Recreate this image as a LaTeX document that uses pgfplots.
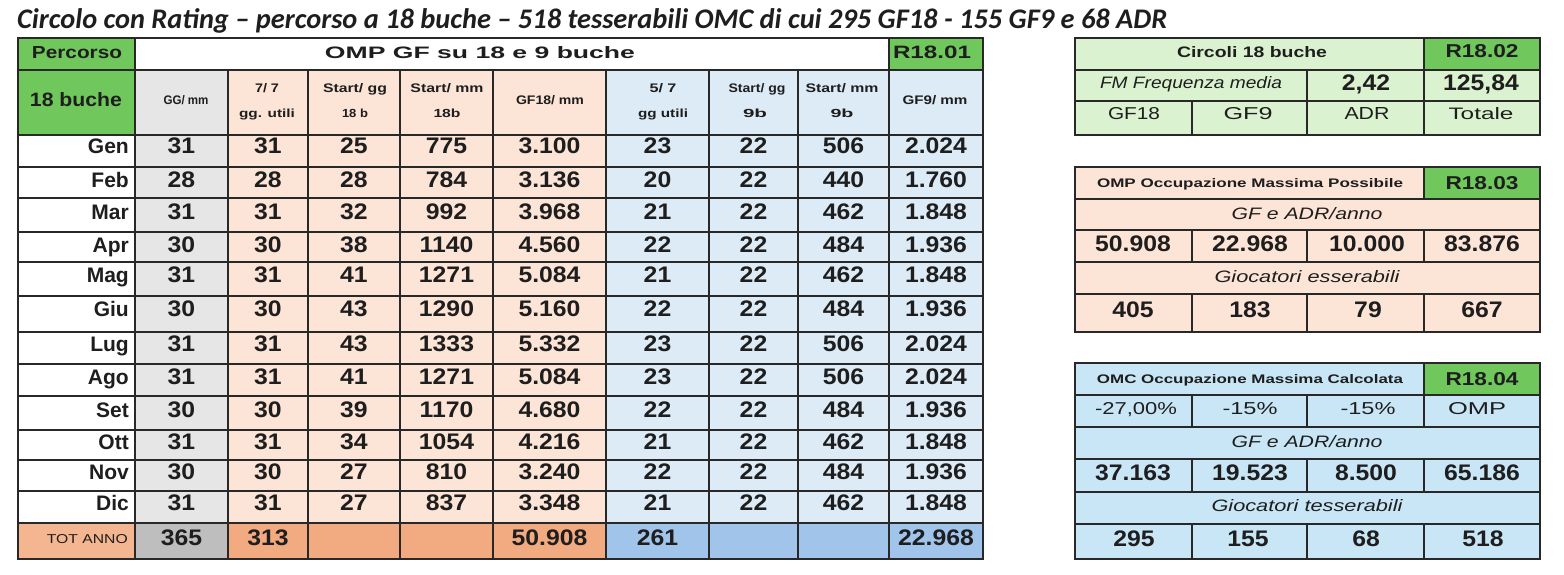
\documentclass[border=0pt]{standalone}
\usepackage{fontspec}
\usepackage{graphicx}
\usepackage{xcolor}
\usepackage{pgfplots}
\usepackage{pgfplotstable}
\pgfplotsset{compat=1.18}
\setmainfont{Liberation Sans}
\newfontfamily\titlef{Carlito}
\newfontfamily\numf{Liberation Sans}[FakeStretch=1.1]

\definecolor{ghdr}{RGB}{112,199,92}
\definecolor{lgreen}{RGB}{218,242,208}
\definecolor{cgray}{RGB}{230,230,230}
\definecolor{cgrayt}{RGB}{190,190,190}
\definecolor{csal}{RGB}{252,228,214}
\definecolor{csalt}{RGB}{242,170,128}
\definecolor{csallab}{RGB}{244,182,144}
\definecolor{cblue}{RGB}{221,235,247}
\definecolor{cbluet}{RGB}{160,196,234}
\definecolor{rblue}{RGB}{200,230,246}
\definecolor{rsal}{RGB}{252,228,214}
\definecolor{lncol}{RGB}{40,40,40}
\definecolor{txt}{RGB}{30,30,30}

\newcommand{\fw}[2]{\resizebox{#1pt}{!}{#2}}
\newcommand{\fwh}[3]{\resizebox{#1pt}{#2pt}{#3}}

\pgfplotstableread{
y    mon  gg  s77 sgg18 smm18 gf18  s57 sgg9 smm9 gf9
146  Gen  31  31  25    775   3.100 23  22   506  2.024
180  Feb  28  28  28    784   3.136 20  22   440  1.760
212  Mar  31  31  32    992   3.968 21  22   462  1.848
245  Apr  30  30  38    1140  4.560 22  22   484  1.936
275  Mag  31  31  41    1271  5.084 21  22   462  1.848
309  Giu  30  30  43    1290  5.160 22  22   484  1.936
344  Lug  31  31  43    1333  5.332 23  22   506  2.024
377  Ago  31  31  41    1271  5.084 23  22   506  2.024
410  Set  30  30  39    1170  4.680 22  22   484  1.936
442  Ott  31  31  34    1054  4.216 21  22   462  1.848
472  Nov  30  30  27    810   3.240 22  22   484  1.936
503  Dic  31  31  27    837   3.348 21  22   462  1.848
}\maindata

\pgfplotsset{
  numplot/.style={draw=none, mark=none, point meta=explicit symbolic,
    nodes near coords={\pgfplotspointmeta},
    every node near coord/.append style={anchor=center, inner sep=0pt, text depth=0pt,
      font=\numf\bfseries\fontsize{22.5}{23}\selectfont, text=txt}},
  monplot/.style={draw=none, mark=none, point meta=explicit symbolic,
    nodes near coords={\pgfplotspointmeta},
    every node near coord/.append style={anchor=east, inner sep=0pt, text depth=0pt,
      font=\bfseries\fontsize{21}{22}\selectfont, text=txt}},
}
\tikzset{lab/.style={anchor=center, inner sep=0pt, text depth=0pt, text=txt},
  ln/.style={draw=lncol, line width=1.7pt},
  lno/.style={draw=lncol, line width=2.6pt}}

\begin{document}
\begin{tikzpicture}
\begin{axis}[
  scale only axis, width=1564pt, height=574pt,
  xmin=0, xmax=1564, ymin=0, ymax=574, y dir=reverse,
  hide axis, clip=false,
]
\fill[white] (0,0) rectangle (1564,574);
% ---------- main table backgrounds
\fill[ghdr] (18,38) rectangle (135,135);
\fill[white] (135,38) rectangle (889,70);
\fill[ghdr] (889,38) rectangle (983,70);
\fill[cgray] (135,70) rectangle (228,523);
\fill[csal] (228,70) rectangle (606,523);
\fill[cblue] (606,70) rectangle (983,523);
\fill[white] (18,135) rectangle (135,523);
\fill[csallab] (18,523) rectangle (135,559);
\fill[cgrayt] (135,523) rectangle (228,559);
\fill[csalt] (228,523) rectangle (606,559);
\fill[cbluet] (606,523) rectangle (983,559);
% ---------- main table lines
\pgfplotsinvokeforeach{70,135,167,198,232,262,296,332,364,396,430,460,491,523}{
  \draw[ln] (18,#1) -- (983,#1);
}
\pgfplotsinvokeforeach{228,308,400,493,606,709,798}{
  \draw[ln] (#1,70) -- (#1,559);
}
\draw[ln] (135,38) -- (135,559);
\draw[ln] (889,38) -- (889,559);
\draw[lno] (18,38) rectangle (983,559);

% ---------- right tables backgrounds
\fill[lgreen] (1075,38) rectangle (1540,135);
\fill[ghdr] (1424,38) rectangle (1540,70);
\fill[rsal] (1075,167) rectangle (1540,332);
\fill[ghdr] (1424,167) rectangle (1540,199);
\fill[rblue] (1075,363) rectangle (1540,559);
\fill[ghdr] (1424,363) rectangle (1540,395);
% table 1 lines
\draw[ln] (1075,70) -- (1540,70);
\draw[ln] (1075,101) -- (1540,101);
\draw[ln] (1424,38) -- (1424,135);
\draw[ln] (1307,70) -- (1307,135);
\draw[ln] (1192,101) -- (1192,135);
\draw[lno] (1075,38) rectangle (1540,135);
% table 2 lines
\pgfplotsinvokeforeach{199,230,262,294}{\draw[ln] (1075,#1) -- (1540,#1);}
\draw[ln] (1424,167) -- (1424,199);
\pgfplotsinvokeforeach{1192,1307,1424}{
  \draw[ln] (#1,230) -- (#1,262);
  \draw[ln] (#1,294) -- (#1,332);
}
\draw[lno] (1075,167) rectangle (1540,332);
% table 3 lines
\pgfplotsinvokeforeach{395,427,459,492,524}{\draw[ln] (1075,#1) -- (1540,#1);}
\draw[ln] (1424,363) -- (1424,395);
\pgfplotsinvokeforeach{1192,1307,1424}{
  \draw[ln] (#1,395) -- (#1,427);
  \draw[ln] (#1,459) -- (#1,492);
  \draw[ln] (#1,524) -- (#1,559);
}
\draw[lno] (1075,363) rectangle (1540,559);

% ---------- title
\node[anchor=base west, inner sep=0pt, text=txt] at (17,28)
  {\fw{1150}{\titlef\bfseries\itshape\fontsize{26}{28}\selectfont Circolo con Rating – percorso a 18 buche – 518 tesserabili OMC di cui 295 GF18 - 155 GF9 e 68 ADR}};

% ---------- main headers
\node[lab] at (77,52) {\fwh{90}{12}{\bfseries Percorso}};
\node[lab] at (76,99) {\fwh{92}{14}{\bfseries 18 buche}};
\node[lab] at (480,52) {\fwh{310}{12}{\bfseries OMP GF su 18 e 9 buche}};
\node[lab] at (932,52) {\fwh{78}{12.5}{\bfseries R18.01}};
\node[lab] at (186,100) {\fwh{45}{9}{\bfseries GG/ mm}};
\node[lab] at (267,88) {\fwh{24}{9}{\bfseries 7/ 7}};
\node[lab] at (267,113) {\fwh{56}{8.5}{\bfseries gg. utili}};
\node[lab] at (355,88) {\fwh{64}{9}{\bfseries Start/ gg}};
\node[lab] at (355,113) {\fwh{26}{8.5}{\bfseries 18 b}};
\node[lab] at (447,88) {\fwh{73}{9}{\bfseries Start/ mm}};
\node[lab] at (447,113) {\fwh{27}{8.5}{\bfseries 18b}};
\node[lab] at (550,100) {\fwh{68}{9}{\bfseries GF18/ mm}};
\node[lab] at (663,88) {\fwh{27}{9}{\bfseries 5/ 7}};
\node[lab] at (663,113) {\fwh{50}{8.5}{\bfseries gg utili}};
\node[lab] at (757,88) {\fwh{57}{9}{\bfseries Start/ gg}};
\node[lab] at (755,113) {\fwh{24}{8.5}{\bfseries 9b}};
\node[lab] at (842,88) {\fwh{73}{9}{\bfseries Start/ mm}};
\node[lab] at (842,113) {\fwh{23}{8.5}{\bfseries 9b}};
\node[lab] at (935,100) {\fwh{65}{9}{\bfseries GF9/ mm}};
\node[lab, anchor=east] at (128,539) {\fwh{81}{9}{TOT ANNO}};

% ---------- main data
\addplot[monplot] table[x expr=129, y=y, meta=mon] {\maindata};
\addplot[numplot] table[x expr=181.5, y=y, meta=gg] {\maindata};
\addplot[numplot] table[x expr=268, y=y, meta=s77] {\maindata};
\addplot[numplot] table[x expr=354, y=y, meta=sgg18] {\maindata};
\addplot[numplot] table[x expr=446.5, y=y, meta=smm18] {\maindata};
\addplot[numplot] table[x expr=549.5, y=y, meta=gf18] {\maindata};
\addplot[numplot] table[x expr=657.5, y=y, meta=s57] {\maindata};
\addplot[numplot] table[x expr=753.5, y=y, meta=sgg9] {\maindata};
\addplot[numplot] table[x expr=843.5, y=y, meta=smm9] {\maindata};
\addplot[numplot] table[x expr=936, y=y, meta=gf9] {\maindata};
\addplot[numplot] coordinates {(181.5,538) [365] (268,538) [313] (549.5,538) [50.908] (657.5,538) [261] (936,538) [22.968]};

% ---------- right table 1
\node[lab] at (1252,52) {\fwh{150}{11}{\bfseries Circoli 18 buche}};
\node[lab] at (1482,51) {\fwh{73}{13}{\bfseries R18.02}};
\node[lab] at (1191,82) {\fwh{182}{12}{\itshape FM Frequenza media}};
\node[lab] at (1134,113) {\fwh{52}{12}{GF18}};
\node[lab] at (1248,113) {\fwh{49}{12}{GF9}};
\node[lab] at (1367,113) {\fwh{45}{12}{ADR}};
\node[lab] at (1481,113) {\fwh{65}{12}{Totale}};
\addplot[numplot] coordinates {(1366,83) [{2,42}] (1481,83) [{125,84}]};

% ---------- right table 2
\node[lab] at (1250,183) {\fwh{306}{9}{\bfseries OMP Occupazione Massima Possibile}};
\node[lab] at (1482,183) {\fwh{73}{13}{\bfseries R18.03}};
\node[lab] at (1307,213) {\fwh{151}{12}{\itshape GF e ADR/anno}};
\node[lab] at (1307,276) {\fwh{185}{12}{\itshape Giocatori esserabili}};
\addplot[numplot] coordinates {(1133,244) [50.908] (1250,244) [22.968] (1367,244) [10.000] (1482,244) [83.876]};
\addplot[numplot] coordinates {(1133,310) [405] (1250,310) [183] (1368,310) [79] (1482,310) [667]};

% ---------- right table 3
\node[lab] at (1250,379) {\fwh{306}{9}{\bfseries OMC Occupazione Massima Calcolata}};
\node[lab] at (1482,379) {\fwh{73}{13}{\bfseries R18.04}};
\node[lab] at (1136,408) {\fwh{82}{12}{-27,00\%}};
\node[lab] at (1250,408) {\fwh{55}{12}{-15\%}};
\node[lab] at (1368,408) {\fwh{55}{12}{-15\%}};
\node[lab] at (1477,408) {\fwh{58}{12}{OMP}};
\node[lab] at (1307,441) {\fwh{151}{12}{\itshape GF e ADR/anno}};
\node[lab] at (1307,505) {\fwh{191}{12}{\itshape Giocatori tesserabili}};
\addplot[numplot] coordinates {(1133,473) [37.163] (1250,473) [19.523] (1366,473) [8.500] (1482,473) [65.186]};
\addplot[numplot] coordinates {(1134,539) [295] (1248,539) [155] (1366,539) [68] (1483,539) [518]};
\end{axis}
\end{tikzpicture}
\end{document}
